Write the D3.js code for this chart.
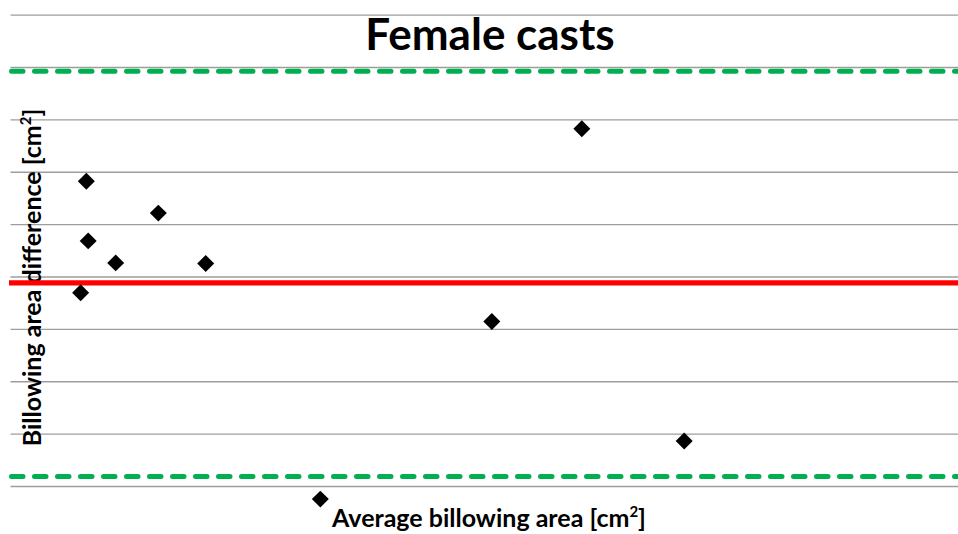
<!DOCTYPE html>
<html>
<head>
<meta charset="utf-8">
<script src="https://cdn.jsdelivr.net/npm/d3@7"></script>
<style>
  html, body { margin: 0; padding: 0; background: #fff; }
  svg { display: block; }
  text { font-family: Lato, "Open Sans", sans-serif; font-weight: bold; fill: #000; }
</style>
</head>
<body>
<svg id="chart" width="958" height="534"></svg>
<script>
// ---- data (axis values are unlabeled, units estimated) ----
const avgArea = [8.0, 15.6, 8.2, 11.1, 20.6, 7.4, 60.3, 50.8, 71.1, 32.7];
const areaDiff = [1.82, 1.21, 0.68, 0.26, 0.25, -0.31, 2.82, -0.86, -3.14, -4.25];
const meanDiff = -0.12;
const upperLimit = 3.92;
const lowerLimit = -3.82;
const yTicks = [-5, -4, -3, -2, -1, 0, 1, 2, 3, 4, 5];
const titleText = "Female casts";
const xTitle = "Average billowing area [cm";
const yTitle = "Billowing area difference [cm";

const svg = d3.select("#chart");
const left = 10.5, right = 958;

const x = d3.scaleLinear().domain([0, 100]).range([left, right]);
const y = d3.scaleLinear().domain([-5, 5]).range([538.4, 14.6]);

// gridlines via axis
const grid = svg.append("g")
  .attr("transform", `translate(${left},0)`)
  .call(d3.axisLeft(y).tickValues(yTicks).tickSize(-(right - left)).tickFormat(""));
grid.select(".domain").remove();
grid.selectAll(".tick line")
  .attr("stroke", "#9d9d9d").attr("stroke-width", 1.4);

// y axis title
const yt = svg.append("text")
  .attr("transform", `translate(41,277.5) rotate(-90)`)
  .attr("text-anchor", "middle")
  .attr("font-size", 25);
yt.append("tspan").text(yTitle);
yt.append("tspan").attr("font-size", 15).attr("dy", -10).text("2");
yt.append("tspan").attr("dy", 10).text("]");

// limit lines
const hline = (v, color, w, dash) => {
  svg.append("line")
    .attr("x1", 11.5).attr("x2", right)
    .attr("y1", y(v)).attr("y2", y(v))
    .attr("stroke", color).attr("stroke-width", w)
    .attr("stroke-dasharray", dash).attr("stroke-linecap", "round");
};
hline(upperLimit, "#00B050", 5, "11.5 11.5");
hline(lowerLimit, "#00B050", 5, "11.5 11.5");
svg.append("line")
  .attr("x1", 9).attr("x2", right)
  .attr("y1", y(meanDiff)).attr("y2", y(meanDiff))
  .attr("stroke", "#FF0000").attr("stroke-width", 5.3);

// points
const sym = d3.symbol().type(d3.symbolSquare).size(144);
svg.append("g").selectAll("path")
  .data(avgArea.map((a, i) => [a, areaDiff[i]]))
  .join("path")
  .attr("d", sym)
  .attr("transform", d => `translate(${x(d[0])},${y(d[1])}) rotate(45)`)
  .attr("fill", "#000");

// title
svg.append("text")
  .attr("x", 490).attr("y", 50)
  .attr("text-anchor", "middle")
  .attr("font-size", 44)
  .text(titleText);

// x axis title
const xt = svg.append("text")
  .attr("x", 489).attr("y", 527)
  .attr("text-anchor", "middle")
  .attr("font-size", 25);
xt.append("tspan").text(xTitle);
xt.append("tspan").attr("font-size", 15).attr("dy", -10).text("2");
xt.append("tspan").attr("dy", 10).text("]");
</script>
</body>
</html>
